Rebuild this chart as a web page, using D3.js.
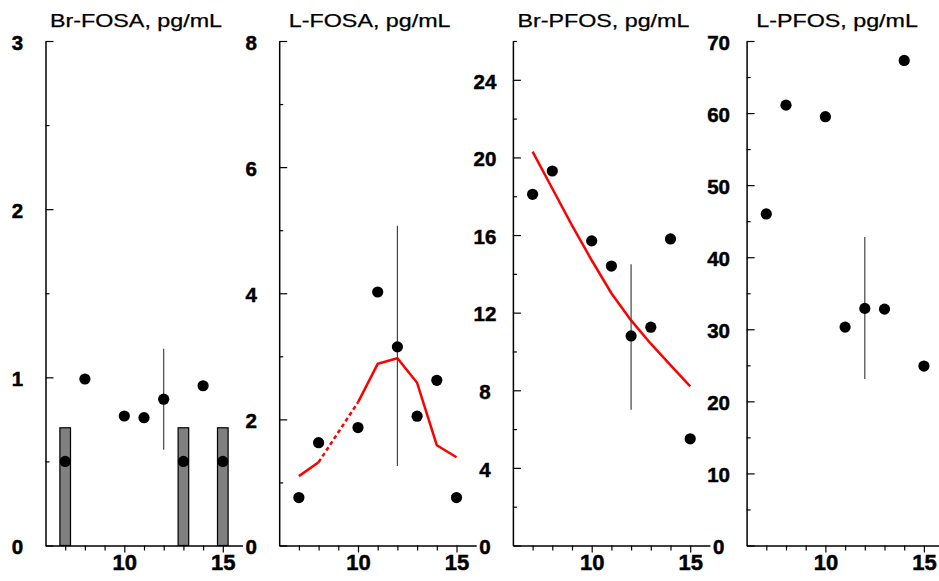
<!DOCTYPE html>
<html>
<head>
<meta charset="utf-8">
<script src="https://cdnjs.cloudflare.com/ajax/libs/d3/7.8.5/d3.min.js"></script>
<style>
  body { margin: 0; background: #fff; }
  svg { display: block; font-family: "Liberation Sans", Arial, sans-serif; }
</style>
</head>
<body>
<div id="chart"></div>
<script>
// ages (x) shared by all panels
const ages = [7, 8, 10, 11, 12, 13, 14, 15];
const xMajorTicks = [10, 15];
const xMinorTicks = [7, 8, 9, 11, 12, 13, 14];

// Br-FOSA
const brFosaValues = [0.5, 0.99, 0.77, 0.76, 0.87, 0.5, 0.95, 0.5];
const brFosaBarAges = [7, 13, 15];
const brFosaBarValues = [0.7, 0.7, 0.7];
const brFosaErr = [0.57, 1.17];
const brFosaTicks = [0, 1, 2, 3];
const brFosaMinor = [0.5, 1.5, 2.5];

// L-FOSA
const lFosaValues = [0.76, 1.63, 1.87, 4.02, 3.15, 2.05, 2.62, 0.76];
const lFosaFitAges = [7, 8, 10, 11, 12, 13, 14, 15];
const lFosaFit = [1.10, 1.32, 2.27, 2.88, 2.97, 2.58, 1.59, 1.40];
const lFosaErr = [1.26, 5.07];
const lFosaTicks = [0, 2, 4, 6, 8];
const lFosaMinor = [1, 3, 5, 7];

// Br-PFOS
const brPfosValues = [18.1, 19.3, 15.7, 14.4, 10.8, 11.25, 15.8, 5.5];
const brPfosFitAges = [7, 8, 9, 10, 11, 12, 13, 14, 15];
const brPfosFit = [20.3, 18.4, 16.5, 14.7, 13.0, 11.6, 10.4, 9.3, 8.2];
const brPfosErr = [7.0, 14.5];
const brPfosTicks = [0, 4, 8, 12, 16, 20, 24];
const brPfosMinor = [2, 6, 10, 14, 18, 22, 26];

// L-PFOS
const lPfosValues = [46.0, 61.1, 59.5, 30.3, 32.9, 32.8, 67.3, 24.9];
const lPfosErr = [23.1, 42.8];
const lPfosTicks = [0, 10, 20, 30, 40, 50, 60, 70];
const lPfosMinor = [5, 15, 25, 35, 45, 55, 65];

const panels = [
  { title: "Br-FOSA, pg/mL", max: 3, values: brFosaValues, err: brFosaErr,
    ticks: brFosaTicks, minor: brFosaMinor, bars: true },
  { title: "L-FOSA, pg/mL", max: 8, values: lFosaValues, err: lFosaErr,
    ticks: lFosaTicks, minor: lFosaMinor, fitX: lFosaFitAges, fitY: lFosaFit, dashed: [8, 10] },
  { title: "Br-PFOS, pg/mL", max: 26, values: brPfosValues, err: brPfosErr,
    ticks: brPfosTicks, minor: brPfosMinor, fitX: brPfosFitAges, fitY: brPfosFit },
  { title: "L-PFOS, pg/mL", max: 70, values: lPfosValues, err: lPfosErr,
    ticks: lPfosTicks, minor: lPfosMinor }
];

const W = 939, H = 581;
const plotTop = 41, plotBottom = 545.5;
const plotW = 197;
const step = 233.7;

const svg = d3.select("#chart").append("svg")
  .attr("width", W)
  .attr("height", H);

panels.forEach((p, i) => {
  const left = 45.5 + i * step;
  const g = svg.append("g").attr("transform", `translate(${left},0)`);

  const x = d3.scaleLinear().domain([6, 16]).range([0, plotW]);
  const y = d3.scaleLinear().domain([0, p.max]).range([plotBottom, plotTop]);

  // title (the source figure is stretched sideways, so fit the text width)
  const title = g.append("text")
    .attr("x", 90.5)
    .attr("y", 27)
    .attr("text-anchor", "middle")
    .style("font-size", "17.5px")
    .attr("stroke", "#000")
    .attr("stroke-width", 0.25)
    .text(p.title);
  const tw = title.node().getComputedTextLength();
  title.attr("textLength", tw * 1.33).attr("lengthAdjust", "spacingAndGlyphs");

  // bars (Br-FOSA only)
  if (p.bars) {
    const bw = 10.6;
    g.selectAll(".bar")
      .data(brFosaBarAges.map((a, k) => ({ a, v: brFosaBarValues[k] })))
      .join("rect")
      .attr("x", d => x(d.a) - bw / 2)
      .attr("y", d => y(d.v))
      .attr("width", bw)
      .attr("height", d => y(0) - y(d.v))
      .attr("fill", "#808080")
      .attr("stroke", "#000")
      .attr("stroke-width", 1.2);
  }

  // fitted line
  if (p.fitX) {
    const pts = p.fitX.map((a, k) => ({ a, v: p.fitY[k] }));
    const line = d3.line().x(d => x(d.a)).y(d => y(d.v));
    if (p.dashed) {
      const [d0, d1] = p.dashed;
      const before = pts.filter(d => d.a <= d0);
      const gap = pts.filter(d => d.a >= d0 && d.a <= d1);
      const after = pts.filter(d => d.a >= d1);
      [before, after].forEach(seg => {
        g.append("path").datum(seg)
          .attr("fill", "none").attr("stroke", "#ff0000")
          .attr("stroke-width", 2.5).attr("d", line);
      });
      g.append("path").datum(gap)
        .attr("fill", "none").attr("stroke", "#ff0000")
        .attr("stroke-width", 2.5).attr("stroke-dasharray", "4 3")
        .attr("d", line);
    } else {
      g.append("path").datum(pts)
        .attr("fill", "none").attr("stroke", "#ff0000")
        .attr("stroke-width", 2.5).attr("d", line);
    }
  }

  // error bar at age 12
  g.append("line")
    .attr("x1", x(12)).attr("x2", x(12))
    .attr("y1", y(p.err[0])).attr("y2", y(p.err[1]))
    .attr("stroke", "#444")
    .attr("stroke-width", 1.2);

  // points
  g.selectAll(".pt")
    .data(ages.map((a, k) => ({ a, v: p.values[k] })))
    .join("circle")
    .attr("cx", d => x(d.a))
    .attr("cy", d => y(d.v))
    .attr("r", 5.6)
    .attr("fill", "#000");

  // y axis: ticks inward, labels centered to the left
  const yAx = g.append("g")
    .call(d3.axisRight(y).tickValues(p.ticks).tickFormat(d3.format("d"))
      .tickSize(8).tickSizeOuter(0));
  yAx.selectAll("text")
    .attr("x", -28)
    .attr("dy", "0.4em")
    .attr("text-anchor", "middle")
    .style("font-size", "20.5px")
    .style("font-weight", "bold")
    .style("font-family", "'Liberation Sans', Arial, sans-serif")
    .attr("fill", "#000")
    .attr("stroke", "#000")
    .attr("stroke-width", 0.5);
  g.append("g")
    .call(d3.axisRight(y).tickValues(p.minor).tickSize(4).tickFormat("").tickSizeOuter(0))
    .select(".domain").remove();

  // x axis
  const xAx = g.append("g")
    .attr("transform", `translate(0,${plotBottom})`)
    .call(d3.axisBottom(x).tickValues(xMajorTicks).tickSize(7).tickSizeOuter(0));
  xAx.selectAll("text")
    .attr("y", 24.5)
    .attr("dy", "0")
    .style("font-size", "22px")
    .style("font-weight", "bold")
    .style("font-family", "'Liberation Sans', Arial, sans-serif")
    .attr("fill", "#000")
    .attr("stroke", "#000")
    .attr("stroke-width", 0.5);
  g.append("g")
    .attr("transform", `translate(0,${plotBottom})`)
    .call(d3.axisBottom(x).tickValues(xMinorTicks).tickSize(5).tickFormat("").tickSizeOuter(0))
    .select(".domain").remove();

  g.selectAll(".domain").attr("stroke-width", 1.5);
  g.selectAll(".tick line").attr("stroke-width", 1.2);
});
</script>
</body>
</html>
